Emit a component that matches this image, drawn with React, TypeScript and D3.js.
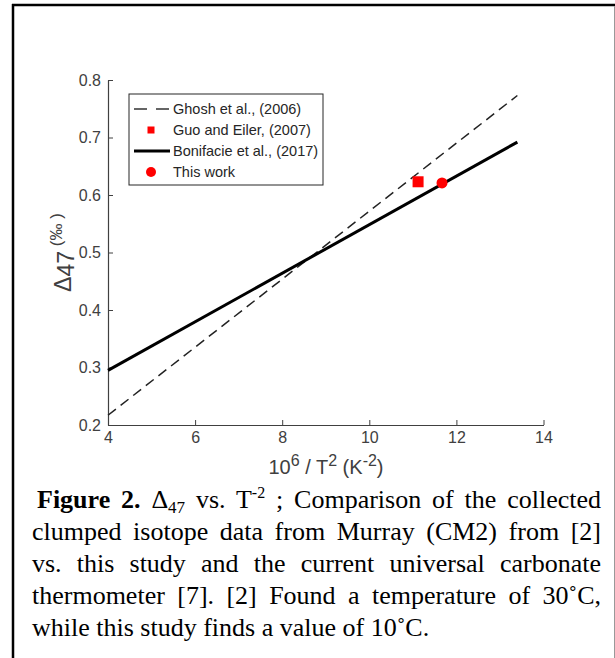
import React, { useRef, useEffect } from "react";
import * as d3 from "d3";

// line endpoints (x = 10^6/T^2)
const lineX = [4, 13.4];
const ghoshY = [0.217, 0.773];
const bonifacieY = [0.295, 0.692];

// single data points
const guoPoint = { x: 11.12, y: 0.623 };
const thisWorkPoint = { x: 11.67, y: 0.621 };

const xTicks = [4, 6, 8, 10, 12, 14];
const yTicks = [0.2, 0.3, 0.4, 0.5, 0.6, 0.7, 0.8];

const legendLabels = [
  "Ghosh et al., (2006)",
  "Guo and Eiler, (2007)",
  "Bonifacie et al., (2017)",
  "This work",
];

const captionLines = [
  "clumped isotope data from Murray (CM2) from [2]",
  "vs. this study and the current universal carbonate",
  "thermometer [7]. [2] Found a temperature of 30˚C,",
  "while this study finds a value of 10˚C.",
];

// stretch the spaces of a text line so it ends at `right`
const justify = (node: SVGTextElement, left: number, right: number) => {
  const natural = node.getComputedTextLength();
  const spaces = (node.textContent || "").split(" ").length - 1;
  if (spaces > 0) {
    const extra = (right - left - natural) / spaces;
    node.style.wordSpacing = `${extra}px`;
  }
};

const App = () => {
  const ref = useRef<SVGSVGElement>(null);

  useEffect(() => {
    const width = 615;
    const height = 658;
    const plot = { left: 108, right: 543.5, top: 80, bottom: 425 };
    const axisColor = "#404040";
    const sans = "'Liberation Sans', Arial, sans-serif";
    const serif = "'Liberation Serif', 'Times New Roman', serif";
    const capSize = 26;

    const svg = d3.select(ref.current).attr("width", width).attr("height", height);
    svg.selectAll("*").remove();

    svg.append("rect").attr("width", width).attr("height", height).attr("fill", "white");

    // frame around figure + caption
    svg.append("line").attr("x1", 13).attr("x2", 13).attr("y1", 4).attr("y2", height)
      .attr("stroke", "black").attr("stroke-width", 2.5);
    svg.append("line").attr("x1", 12).attr("x2", width).attr("y1", 5).attr("y2", 5)
      .attr("stroke", "black").attr("stroke-width", 2.5);
    svg.append("line").attr("x1", 614.5).attr("x2", 614.5).attr("y1", 6).attr("y2", height)
      .attr("stroke", "#999").attr("stroke-width", 1);

    const x = d3.scaleLinear().domain([4, 14]).range([plot.left, plot.right]);
    const y = d3.scaleLinear().domain([0.2, 0.8]).range([plot.bottom, plot.top]);

    // axes, ticks pointing inward
    const xAxis = svg.append("g")
      .attr("transform", `translate(0, ${plot.bottom})`)
      .call(d3.axisBottom(x).tickValues(xTicks).tickSizeInner(-5).tickSizeOuter(0).tickPadding(7));
    const yAxis = svg.append("g")
      .attr("transform", `translate(${plot.left}, 0)`)
      .call(d3.axisLeft(y).tickValues(yTicks).tickFormat(d3.format(".1f")).tickSizeInner(-5).tickSizeOuter(0).tickPadding(7));

    [xAxis, yAxis].forEach(g => {
      g.select(".domain").attr("stroke", axisColor).attr("stroke-width", 1.2);
      g.selectAll("line").attr("stroke", axisColor);
      g.selectAll("text").attr("fill", axisColor).style("font-family", sans).style("font-size", "16px");
    });

    const lineGen = d3.line<number>().x((d, i) => x(lineX[i])).y(d => y(d));

    svg.append("path").datum(ghoshY).attr("d", lineGen)
      .attr("fill", "none").attr("stroke", "#222").attr("stroke-width", 1.5)
      .attr("stroke-dasharray", "10,6");

    svg.append("path").datum(bonifacieY).attr("d", lineGen)
      .attr("fill", "none").attr("stroke", "black").attr("stroke-width", 3);

    // points
    svg.append("rect")
      .attr("x", x(guoPoint.x) - 5.5).attr("y", y(guoPoint.y) - 5.5)
      .attr("width", 11).attr("height", 11).attr("fill", "red");
    svg.append("circle")
      .attr("cx", x(thisWorkPoint.x)).attr("cy", y(thisWorkPoint.y))
      .attr("r", 5.5).attr("fill", "red");

    // legend
    const lg = svg.append("g").attr("transform", "translate(129, 94)");
    lg.append("rect").attr("width", 194).attr("height", 91)
      .attr("fill", "white").attr("stroke", "#262626").attr("stroke-width", 1);
    const rowY = (i: number) => 15 + i * 21;
    lg.append("line").attr("x1", 5).attr("x2", 40).attr("y1", rowY(0)).attr("y2", rowY(0))
      .attr("stroke", "#333").attr("stroke-width", 1.5).attr("stroke-dasharray", "13,9");
    lg.append("rect").attr("x", 18.5).attr("y", rowY(1) - 3.5).attr("width", 7).attr("height", 7).attr("fill", "red");
    lg.append("line").attr("x1", 5).attr("x2", 41).attr("y1", rowY(2)).attr("y2", rowY(2))
      .attr("stroke", "black").attr("stroke-width", 3);
    lg.append("circle").attr("cx", 22).attr("cy", rowY(3)).attr("r", 5).attr("fill", "red");
    lg.selectAll("text.leg").data(legendLabels).enter().append("text")
      .attr("class", "leg")
      .attr("x", 44).attr("y", (d, i) => rowY(i) + 5)
      .attr("fill", "#262626").style("font-family", sans).style("font-size", "14.5px")
      .text(d => d);

    // axis labels
    const xl = svg.append("text")
      .attr("x", 326).attr("y", 474)
      .attr("text-anchor", "middle").attr("fill", axisColor)
      .style("font-family", sans).style("font-size", "20px");
    xl.append("tspan").text("10");
    xl.append("tspan").attr("dy", -8).style("font-size", "16px").text("6");
    xl.append("tspan").attr("dy", 8).text(" / T");
    xl.append("tspan").attr("dy", -8).style("font-size", "16px").text("2");
    xl.append("tspan").attr("dy", 8).text(" (K");
    xl.append("tspan").attr("dy", -8).style("font-size", "16px").text("-2");
    xl.append("tspan").attr("dy", 8).text(")");

    const yl = svg.append("text")
      .attr("transform", `translate(71, ${y(0.5)}) rotate(-90)`)
      .attr("text-anchor", "middle").attr("fill", axisColor)
      .style("font-family", sans).style("font-size", "23px");
    yl.append("tspan").text("Δ");
    yl.append("tspan").attr("dy", 3).text("47");
    yl.append("tspan").attr("dy", -12).style("font-size", "17px").text(" (‰ )");

    // caption
    const cap = svg.append("text")
      .attr("x", 37).attr("y", 508)
      .attr("fill", "black").style("font-family", serif).style("font-size", `${capSize}px`);
    cap.append("tspan").style("font-weight", "bold").text("Figure 2.");
    cap.append("tspan").text(" Δ");
    cap.append("tspan").attr("dy", 5).style("font-size", "17px").text("47");
    cap.append("tspan").attr("dy", -5).text(" vs. T");
    cap.append("tspan").attr("dy", -10).style("font-size", "16px").text("-2");
    cap.append("tspan").attr("dy", 10).text(" ; Comparison of the collected");
    justify(cap.node() as SVGTextElement, 37, 601);

    captionLines.forEach((t, i) => {
      const txt = svg.append("text")
        .attr("x", 32).attr("y", 540 + i * 32)
        .attr("fill", "black").style("font-family", serif).style("font-size", `${capSize}px`)
        .text(t);
      if (i < captionLines.length - 1) {
        justify(txt.node() as SVGTextElement, 32, 601);
      }
    });
  }, []);

  return (
    <div style={{ position: "absolute", left: 0, top: 0 }}>
      <svg ref={ref}></svg>
    </div>
  );
};

export default App;
